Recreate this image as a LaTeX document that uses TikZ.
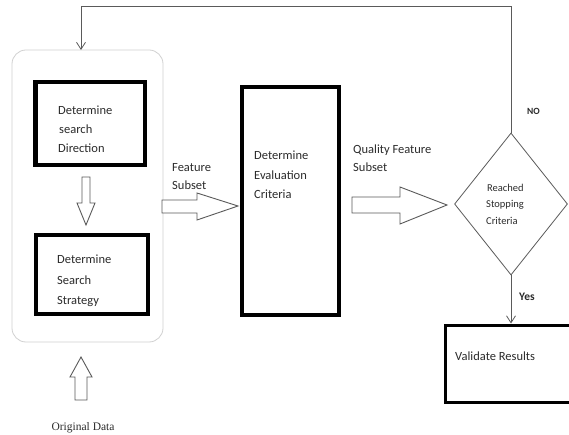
\documentclass[tikz,border=0pt]{standalone}
\usepackage{fontspec}
\setmainfont{Carlito}
\newfontfamily\timesfont{Liberation Serif}
\usetikzlibrary{shapes.geometric,arrows.meta,calc}
\definecolor{txt}{HTML}{2B2B2B}
\definecolor{lin}{HTML}{5A5A5A}
\begin{document}
\begin{tikzpicture}[x=1pt,y=-1pt,
  thickbox/.style={draw=black,line width=4.5pt,inner sep=0pt},
  valbox/.style={draw=black,line width=3pt,inner sep=0pt},
  lbl/.style={anchor=base west,inner sep=0pt,text=txt,font=\fontsize{12.5}{15}\selectfont},
  hollow/.style={draw=lin,line width=0.9pt,fill=white,line join=miter},
  thinline/.style={draw=lin,line width=0.8pt},
  openhead/.style={-{Straight Barb[length=7pt,width=9pt,line width=0.8pt]}}
]
\useasboundingbox (0,0) rectangle (569,435);
\fill[white] (0,0) rectangle (569,435);

% outer rounded container
\node[draw=black!18,line width=0.8pt,rounded corners=14pt,minimum width=151pt,minimum height=292pt,inner sep=0pt] (outer) at (87.5,196) {};
\coordinate (fbend) at (81,50);

% boxes
\node[thickbox,minimum width=109.5pt,minimum height=83pt] (dir) at (90,123.5) {};
\node[thickbox,minimum width=112pt,minimum height=79pt] (strat) at (92,274.5) {};
\node[thickbox,minimum width=97pt,minimum height=228pt] (eval) at (290.5,201) {};
\node[valbox,minimum width=127pt,minimum height=77pt] (val) at (509,363.5) {};
\node[draw=lin,line width=0.8pt,diamond,minimum width=113pt,minimum height=142pt,inner sep=0pt] (dia) at (511,204) {};

% texts
\node[lbl] (t1a) at (58,115) {Determine};
\node[lbl] (t1b) at (59,134) {search};
\node[lbl] (t1c) at (58,153) {Direction};
\node[lbl] (t2a) at (57,263) {Determine};
\node[lbl] (t2b) at (57,284) {Search};
\node[lbl] (t2c) at (57,304) {Strategy};
\node[lbl] (t3a) at (254,160) {Determine};
\node[lbl] (t3b) at (254,180) {Evaluation};
\node[lbl] (t3c) at (254,199) {Criteria};
\node[lbl] (fs1) at (172,172) {Feature};
\node[lbl] (fs2) at (172,190) {Subset};
\node[lbl] (qf1) at (353,154) {Quality Feature};
\node[lbl] (qf2) at (353,172) {Subset};
\node[lbl] (vr) at (455,360) {Validate Results};
\node[lbl,font=\fontsize{10.5}{12}\selectfont] (d1) at (487,192) {Reached};
\node[lbl,font=\fontsize{10.5}{12}\selectfont] (d2) at (486,208) {Stopping};
\node[lbl,font=\fontsize{10.5}{12}\selectfont] (d3) at (486,225) {Criteria};
\node[lbl,font=\bfseries\fontsize{9.5}{11}\selectfont] (no) at (527,115) {NO};
\node[lbl,font=\bfseries\fontsize{11.5}{13}\selectfont] (yes) at (519,300) {Yes};
\node[anchor=base,inner sep=0pt,text=txt,font=\timesfont\fontsize{11.5}{13}\selectfont] (orig) at (83,430) {Original Data};

% hollow block arrows
\draw[hollow] (162,200) -- (197,200) -- (197,193) -- (238,206) -- (197,220) -- (197,213) -- (162,213) -- cycle;
\draw[hollow] (352,197) -- (400,197) -- (400,187) -- (447,205) -- (400,224) -- (400,213) -- (352,213) -- cycle;
\draw[hollow] (82,177) -- (90,177) -- (90,203) -- (95,203) -- (86,225) -- (77,203) -- (82,203) -- cycle;
\draw[hollow] (75,400) -- (87,400) -- (87,377) -- (92,377) -- (81,357) -- (70,377) -- (75,377) -- cycle;

% feedback loop and yes connector
\draw[thinline,openhead] (dia.north) -- ++(0,-126) -| (fbend);
\draw[thinline,openhead] (dia.south) -- (dia.south |- val.north);
\end{tikzpicture}
\end{document}
